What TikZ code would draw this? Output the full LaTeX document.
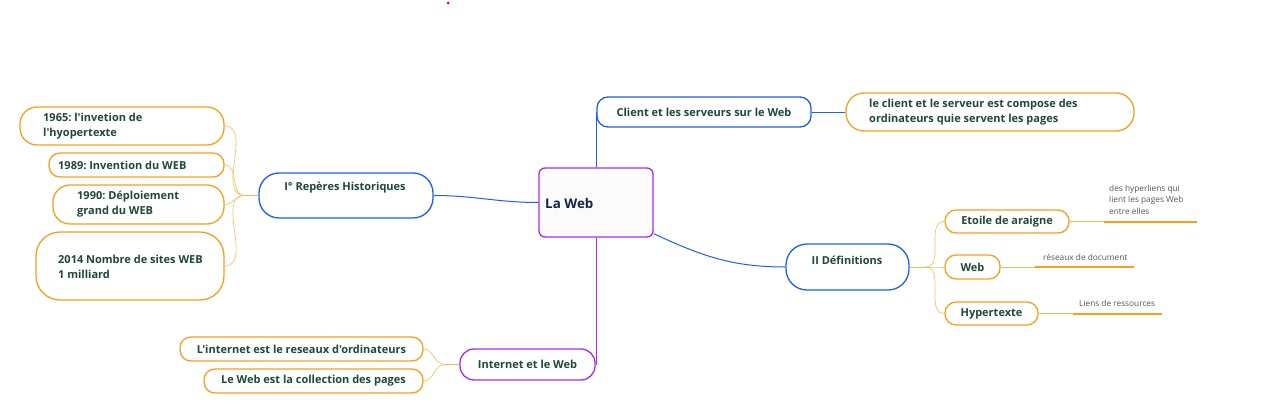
\documentclass[tikz,border=0pt]{standalone}
\usepackage{fontspec}
\setmainfont{Open Sans}[Ligatures=TeXOff]
\usetikzlibrary{positioning}
\frenchspacing

\definecolor{bleuC}{RGB}{30,94,245}
\definecolor{violC}{RGB}{165,45,240}
\definecolor{orangeC}{RGB}{247,160,30}
\definecolor{texteC}{RGB}{30,72,58}
\definecolor{titreC}{RGB}{22,34,72}
\definecolor{noteC}{RGB}{85,85,85}

\begin{document}
\begin{tikzpicture}[x=1pt,y=-1pt,
boite/.style={draw,line width=1.3pt,rounded corners=11pt,fill=white,inner sep=0pt},
boiteB/.style={boite,draw=bleuC},
boiteV/.style={boite,draw=violC},
boiteO/.style={boite,draw=orangeC},
texte/.style={text=texteC,font=\bfseries\fontsize{11}{15}\selectfont,inner sep=0pt},
texteG/.style={texte,anchor=west,align=left},
note/.style={text=noteC,font=\fontsize{8.3}{11.5}\selectfont,inner sep=0pt,anchor=west,align=left},
lienB/.style={draw=bleuC,line width=1pt},
lienV/.style={draw=violC,line width=1pt},
lienO/.style={draw=orangeC!75,line width=0.6pt},
souligne/.style={draw=orangeC,line width=2pt}
]
\useasboundingbox (0,0) rectangle (1287,420);
\fill[red] (448,3) circle (1.5pt);
%-- centre
\node[boiteV,rounded corners=6pt,fill=gray!3,minimum width=114pt,minimum height=69pt](web) at (596,202.5){};
\node[texte,anchor=west,text=titreC,font=\bfseries\fontsize{13.4}{15}\selectfont] at (545,203){La Web};
%-- client / serveurs
\node[boiteB,minimum width=214pt,minimum height=30pt](client) at (704,112){}; \node[texte] at (client.center){Client et les serveurs sur le Web};
\node[boiteO,rounded corners=18pt,minimum width=288pt,minimum height=38pt](cs) at (990,112){}; \node[texteG] at (869,112){le client et le serveur est compose des\\ordinateurs quie servent les pages};
\draw[lienB] (web.north) |- (client.west);
\draw[lienB,line width=0.6pt] (client.east) -- (cs.west);
%-- reperes historiques
\node[boiteB,rounded corners=20pt,minimum width=174pt,minimum height=45pt](rep) at (346,195.5){}; \node[texte] at (345,188){I° Repères Historiques};
\draw[lienB] (web.west) to[out=180,in=0] (rep.east);
\node[boiteO,rounded corners=17pt,minimum width=204pt,minimum height=38pt](h1) at (122,126){}; \node[texteG] at (43,126.5){1965: l'invetion de\\l'hyopertexte};
\node[boiteO,minimum width=175pt,minimum height=24pt](h2) at (136.5,165){}; \node[texteG] at (58,165){1989: Invention du WEB};
\node[boiteO,rounded corners=17pt,minimum width=171pt,minimum height=39pt](h3) at (138.5,204.5){}; \node[texteG] at (77,204.5){1990: Déploiement\\grand du WEB};
\node[boiteO,rounded corners=24pt,minimum width=188pt,minimum height=68pt](h4) at (130,266){}; \node[texteG] at (58,266.5){2014 Nombre de sites WEB\\1 milliard};
\coordinate[left=14pt of rep.west](fR);
\draw[lienO] (rep.west) -- (fR);
\foreach \h in {h1,h2,h3,h4}
  \draw[lienO] (fR) to[out=180,in=0] (\h.east);
%-- definitions
\node[boiteB,rounded corners=21pt,minimum width=123pt,minimum height=46pt](def) at (847.5,267){}; \node[texte] at (847,260){II Définitions};
\draw[lienB] ([yshift=4pt]web.south east) to[out=-25,in=180] (def.west);
\node[boiteO,minimum width=124pt,minimum height=23pt](d1) at (1007,221.5){}; \node[texte] at (d1.center){Etoile de araigne};
\node[boiteO,minimum width=55pt,minimum height=24pt](d2) at (972.5,267){}; \node[texte] at (d2.center){Web};
\node[boiteO,minimum width=93pt,minimum height=23pt](d3) at (991.5,313.5){}; \node[texte] at (d3.center){Hypertexte};
\coordinate[right=16pt of def.east](fD);
\draw[lienO] (def.east) -- (fD);
\foreach \d in {d1,d2,d3}
  \draw[lienO] (fD) to[out=0,in=180] (\d.west);
%-- notes
\coordinate (s1a) at (1104,221.5); \coordinate (s1b) at (1197,221.5);
\draw[lienO] (d1.east) -- (s1a); \draw[souligne] (s1a) -- (s1b);
\node[note] at (1109,199.5){des hyperliens qui\\lient les pages Web\\entre elles};
\coordinate (s2a) at (1035,267); \coordinate (s2b) at (1134,267);
\draw[lienO] (d2.east) -- (s2a); \draw[souligne] (s2a) -- (s2b);
\node[note] at (1043,257){réseaux de document};
\coordinate (s3a) at (1073,313.5); \coordinate (s3b) at (1162,313.5);
\draw[lienO] (d3.east) -- (s3a); \draw[souligne] (s3a) -- (s3b);
\node[note] at (1079,303){Liens de ressources};
%-- internet et le web
\node[boiteV,rounded corners=14pt,minimum width=135pt,minimum height=31pt](inter) at (527.5,364.5){}; \node[texte] at (inter.center){Internet et le Web};
\draw[lienV] (web.south) |- (inter.east);
\node[boiteO,minimum width=243pt,minimum height=24pt](i1) at (301.5,349){}; \node[texte] at (i1.center){L'internet est le reseaux d'ordinateurs};
\node[boiteO,minimum width=219pt,minimum height=24pt](i2) at (313.5,381){}; \node[texte] at (i2.center){Le Web est la collection des pages};
\coordinate[left=15pt of inter.west](fI);
\draw[lienO] (inter.west) -- (fI);
\foreach \i in {i1,i2}
  \draw[lienO] (fI) to[out=180,in=0] (\i.east);
\end{tikzpicture}
\end{document}
